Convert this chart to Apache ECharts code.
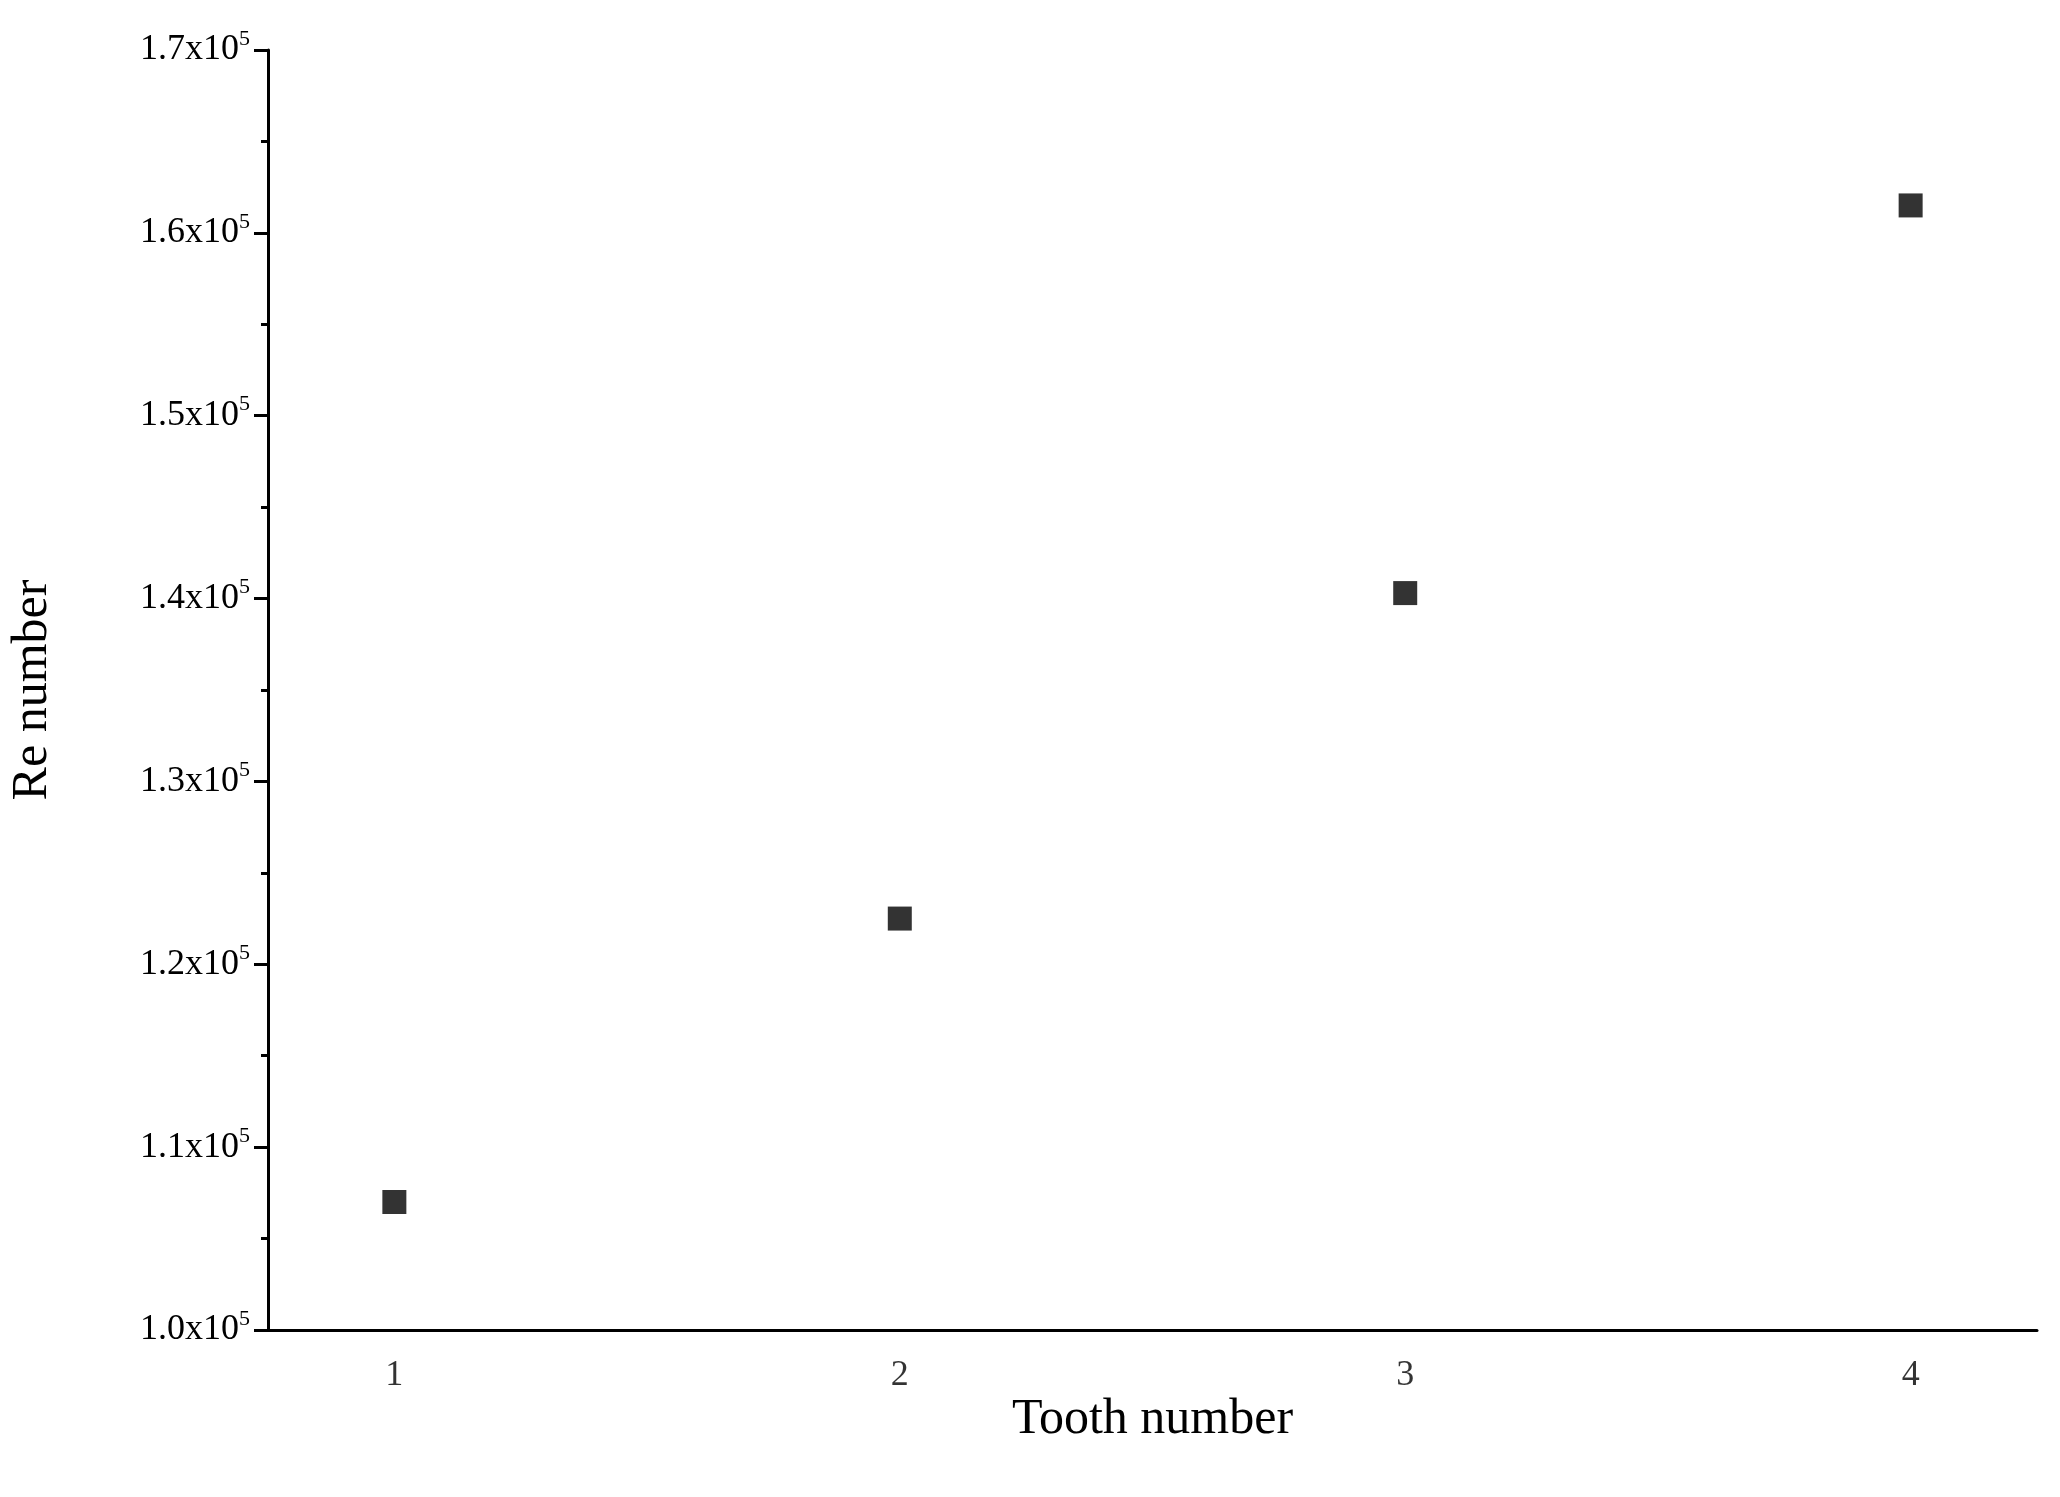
<!DOCTYPE html>
<html><head><meta charset="utf-8">
<script src="https://cdn.jsdelivr.net/npm/echarts@6/dist/echarts.min.js"></script>
<style>html,body{margin:0;background:#fff}#c{width:2060px;height:1497px}</style>
</head><body><div id="c"></div>
<script>
const toothNumbers = [1, 2, 3, 4];
const reValues = [107000, 122500, 140300, 161500];
const xTitle = 'Tooth number';
const yTitle = 'Re number';
const font = 'Liberation Serif';
const chart = echarts.init(document.getElementById('c'));
chart.setOption({
  backgroundColor: '#fff',
  animation: false,
  grid: {left: 256, right: 23, top: 50, bottom: 167},
  xAxis: {
    type: 'value', min: 0.75, max: 4.25,
    name: xTitle, nameLocation: 'middle', nameGap: 65,
    nameTextStyle: {fontFamily: font, fontSize: 50, color: '#000'},
    axisLine: {lineStyle: {color: '#000', width: 3}},
    axisTick: {show: false},
    axisLabel: {show: false},
    splitLine: {show: false}
  },
  yAxis: {
    type: 'value', min: 100000, max: 170000, interval: 10000,
    name: yTitle, nameLocation: 'middle', nameGap: 210,
    nameTextStyle: {fontFamily: font, fontSize: 50, color: '#000'},
    axisLine: {show: true, lineStyle: {color: '#000', width: 3}},
    axisTick: {show: true, inside: false, length: 14, lineStyle: {width: 3}},
    minorTick: {show: true, splitNumber: 2, length: 7, lineStyle: {color: '#000', width: 3}},
    splitLine: {show: false},
    axisLabel: {
      margin: 18,
      formatter: v => '{b|' + (v / 100000).toFixed(1) + 'x10}{s|5}',
      rich: {
        b: {fontFamily: font, fontSize: 36, color: '#000'},
        s: {fontFamily: font, fontSize: 22, color: '#000', verticalAlign: 'top', padding: [0,0,22,0]}
      }
    }
  },
  series: [
    {
      type: 'scatter', symbol: 'rect', symbolSize: 24,
      itemStyle: {color: '#000'},
      data: toothNumbers.map((t, i) => [t, reValues[i]])
    },
    {
      type: 'scatter', symbolSize: 0, silent: true,
      data: toothNumbers.map(t => [t, 100000]),
      label: {show: true, position: 'bottom', distance: 28, formatter: p => String(p.value[0]),
        fontFamily: font, fontSize: 36, color: '#000'},
      markLine: {
        silent: true, symbol: 'none', label: {show: false},
        lineStyle: {color: '#000', width: 3, type: 'solid'},
        data: toothNumbers.map(t => [{coord: [t, 100000]}, {coord: [t, 100000 - 70000 * 14 / 1280]}])
      }
    }
  ]
});
</script></body></html>
